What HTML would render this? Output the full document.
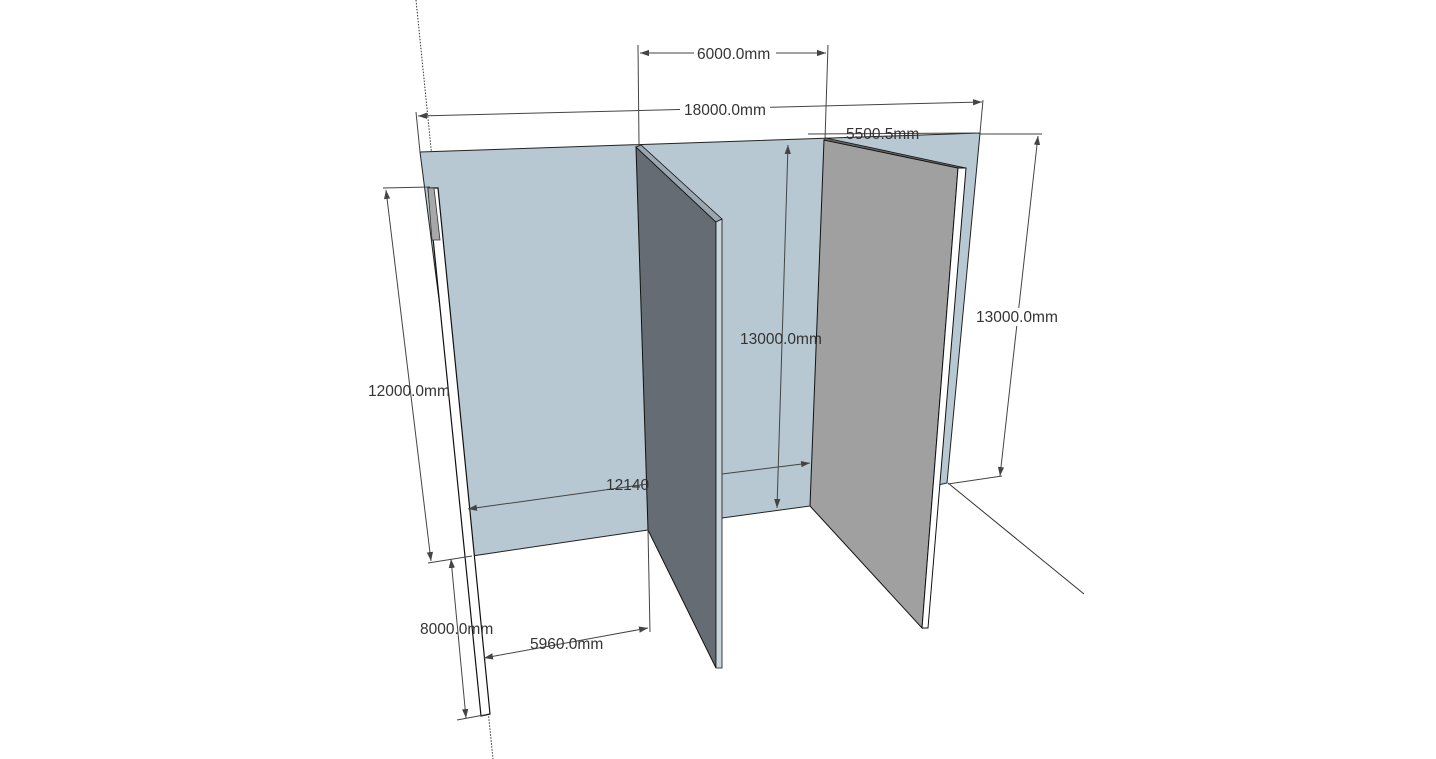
<!DOCTYPE html>
<html><head><style>html,body{margin:0;padding:0;background:#fff;}svg{display:block}</style></head>
<body>
<svg width="1436" height="759" viewBox="0 0 1436 759" xmlns="http://www.w3.org/2000/svg" font-family="Liberation Sans, sans-serif" font-size="15.5" fill="#333">
<defs>
<marker id="a" viewBox="0 0 10 10" refX="10" refY="5" markerWidth="9" markerHeight="9" orient="auto-start-reverse"><path d="M0,1.5 L10,5 L0,8.5 z" fill="#444"/></marker>
</defs>
<line x1="416" y1="0" x2="493" y2="759" stroke="#333" stroke-width="1" stroke-dasharray="1.5,1.5"/>
<polygon points="420,152 980,133 947,483 938,485 810,506 722,518 648,530 472,556" fill="#b7c8d2" stroke="#222" stroke-width="1"/>
<polygon points="428,188 438,188 490,714 481,716" fill="#fff" stroke="#111" stroke-width="1.2"/>
<polygon points="428,188 434,188 440,240 432,240" fill="#a8a8a8" stroke="#333" stroke-width="0.8"/>
<polygon points="636,147 716,222 716,668 648,530" fill="#656c74" stroke="#111" stroke-width="1"/>
<polygon points="636,147 641,145 722,219 716,222" fill="#9aa7b0" stroke="#111" stroke-width="0.8"/>
<polygon points="716,222 722,219 722,668 716,668" fill="#c9d5dc" stroke="#111" stroke-width="0.8"/>
<polygon points="824,140 958,168 922,628 810,506" fill="#a0a0a0" stroke="#111" stroke-width="1"/>
<polygon points="824,140 826,138 966,168 958,168" fill="#666" stroke="#111" stroke-width="0.8"/>
<polygon points="958,168 966,168 928,628 922,628" fill="#fff" stroke="#111" stroke-width="1"/>
<line x1="948" y1="483" x2="1084" y2="594" stroke="#333" stroke-width="1"/>
<g stroke="#444" stroke-width="1" fill="none">
<line x1="638" y1="45" x2="639" y2="145"/>
<line x1="828" y1="45" x2="825" y2="140"/>
<line x1="640" y1="53" x2="826" y2="53" marker-start="url(#a)" marker-end="url(#a)"/>
<line x1="416" y1="112" x2="420" y2="152"/>
<line x1="983" y1="100" x2="980" y2="133"/>
<line x1="418" y1="116" x2="982" y2="102" marker-start="url(#a)" marker-end="url(#a)"/>
<line x1="980" y1="134" x2="1042" y2="134"/>
<line x1="948" y1="484" x2="1002" y2="476"/>
<line x1="1038" y1="136" x2="1000" y2="476" marker-start="url(#a)" marker-end="url(#a)"/>
<line x1="788" y1="145" x2="777" y2="508" marker-start="url(#a)" marker-end="url(#a)"/>
<line x1="808" y1="134" x2="978" y2="133"/>
<line x1="810" y1="463" x2="722" y2="474" marker-start="url(#a)"/>
<line x1="648" y1="484" x2="468" y2="509" marker-end="url(#a)"/>
<line x1="383" y1="188" x2="430" y2="187"/>
<line x1="428" y1="563" x2="472" y2="556"/>
<line x1="386" y1="190" x2="431" y2="561" marker-start="url(#a)" marker-end="url(#a)"/>
<line x1="457" y1="720" x2="484" y2="715"/>
<line x1="451" y1="559" x2="466" y2="718" marker-start="url(#a)" marker-end="url(#a)"/>
<line x1="648" y1="530" x2="650" y2="632"/>
<line x1="648" y1="628" x2="484" y2="658" marker-start="url(#a)" marker-end="url(#a)"/>
</g>
<g fill="#333">
<rect x="694" y="45" width="82" height="16" fill="#fff"/>
<text x="697" y="59">6000.0mm</text>
<rect x="680" y="101" width="90" height="16" fill="#fff"/>
<text x="684" y="115">18000.0mm</text>
<rect x="844" y="126" width="78" height="10" fill="#fff" opacity="0"/>
<text x="846" y="139">5500.5mm</text>
<rect x="974" y="308" width="88" height="18" fill="#fff"/>
<text x="976" y="322">13000.0mm</text>
<text x="740" y="344">13000.0mm</text>
<text x="606" y="490">12140</text>
<text x="368" y="396">12000.0mm</text>
<text x="420" y="634">8000.0mm</text>
<text x="530" y="649">5960.0mm</text>
</g>
</svg>
</body></html>
